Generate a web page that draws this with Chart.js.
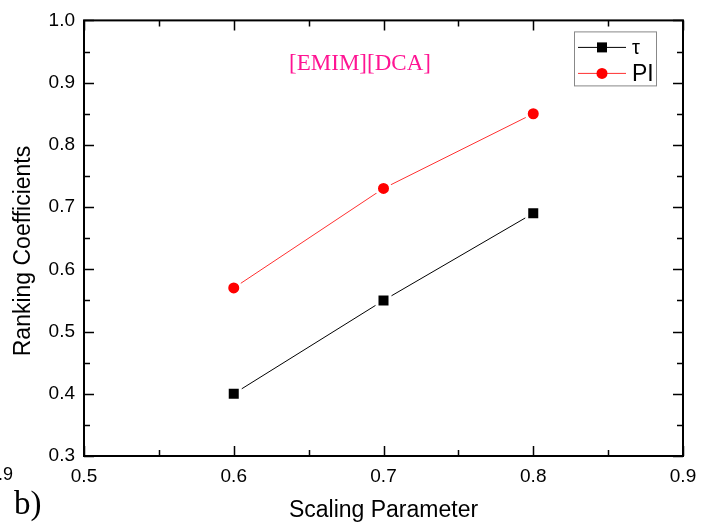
<!DOCTYPE html>
<html>
<head>
<meta charset="utf-8">
<script src="https://cdn.jsdelivr.net/npm/chart.js@4/dist/chart.umd.min.js"></script>
<style>
  html, body { margin: 0; padding: 0; background: #fff; overflow: hidden; }
</style>
</head>
<body>
<canvas id="myChart" width="715" height="529"></canvas>
<script>
// data
const scalingParams = [0.6, 0.7, 0.8];
const tauValues = [0.40, 0.55, 0.69];
const piValues = [0.57, 0.73, 0.85];
const seriesNames = ['τ', 'PI'];
const xTicksRange = [0.5, 0.9];
const yTicksRange = [0.3, 1.0];

function toPoints(xs, ys) {
    return xs.map((x, i) => ({x: x, y: ys[i]}));
}

const sans = '"Liberation Sans", Arial, sans-serif';
const serif = '"Liberation Serif", "Times New Roman", serif';

// inward ticks on all four sides, frame, legend and labels
const decorPlugin = {
    id: 'decor',
    afterDraw(chart) {
        const ctx = chart.ctx;
        const a = chart.chartArea;
        const xs = chart.scales.x;
        const ys = chart.scales.y;
        ctx.save();
        ctx.strokeStyle = '#000';
        ctx.lineWidth = 2;
        ctx.strokeRect(a.left, a.top, a.right - a.left, a.bottom - a.top);

        ctx.lineWidth = 1.5;
        ctx.beginPath();
        for (let v = xs.min; v <= xs.max + 1e-9; v += 0.05) {
            let px = Math.round(xs.getPixelForValue(v)) + 0.5;
            let major = Math.abs(v * 10 - Math.round(v * 10)) < 1e-6;
            let len = major ? 10 : 6;
            ctx.moveTo(px, a.bottom); ctx.lineTo(px, a.bottom - len);
            ctx.moveTo(px, a.top); ctx.lineTo(px, a.top + len);
        }
        for (let v = ys.min; v <= ys.max + 1e-9; v += 0.05) {
            let py = Math.round(ys.getPixelForValue(v)) + 0.5;
            let major = Math.abs(v * 10 - Math.round(v * 10)) < 1e-6;
            let len = major ? 10 : 6;
            ctx.moveTo(a.left, py); ctx.lineTo(a.left + len, py);
            ctx.moveTo(a.right, py); ctx.lineTo(a.right - len, py);
        }
        ctx.stroke();

        // legend box
        const lx = a.right - 109, ly = a.top + 11;
        ctx.strokeStyle = '#888';
        ctx.lineWidth = 1;
        ctx.strokeRect(lx + 0.5, ly + 0.5, 82, 54);
        chart.data.datasets.forEach((ds, i) => {
            let y = ly + 16 + i * 26;
            ctx.strokeStyle = ds.borderColor;
            ctx.lineWidth = 1;
            ctx.beginPath();
            ctx.moveTo(lx + 4, y); ctx.lineTo(lx + 52, y);
            ctx.stroke();
            ctx.fillStyle = ds.pointBackgroundColor;
            if (ds.pointStyle === 'rect') {
                ctx.fillRect(lx + 23, y - 5, 10, 10);
            } else {
                ctx.beginPath();
                ctx.arc(lx + 28, y, 5.5, 0, Math.PI * 2);
                ctx.fill();
            }
            ctx.fillStyle = '#000';
            ctx.font = (i === 0 ? '20px ' : '23px ') + sans;
            ctx.textBaseline = 'middle';
            ctx.textAlign = 'left';
            ctx.fillText(ds.label, lx + 58, y + 1);
        });

        // y axis title, drawn a bit below the middle as in the picture
        ctx.fillStyle = '#000';
        ctx.font = '23px ' + sans;
        ctx.textAlign = 'center';
        ctx.textBaseline = 'middle';
        ctx.translate(24, 251);
        ctx.rotate(-Math.PI / 2);
        ctx.fillText(ys.options.title.text, 0, 0);
        ctx.setTransform(1, 0, 0, 1, 0, 0);

        // annotation
        ctx.fillStyle = '#ff1493';
        ctx.font = '23px ' + serif;
        ctx.fillText('[EMIM][DCA]', 360, 64);

        // panel letter and stray label on the left
        ctx.fillStyle = '#000';
        ctx.font = '33px ' + serif;
        ctx.textAlign = 'left';
        ctx.textBaseline = 'alphabetic';
        ctx.fillText('b)', 14, 514);
        ctx.font = '18px ' + sans;
        ctx.textBaseline = 'middle';
        ctx.fillText('0.9', -12, 475);
        ctx.restore();
    }
};

const ctx = document.getElementById('myChart').getContext('2d');
const myChart = new Chart(ctx, {
    type: 'scatter',
    data: {
        datasets: [{
            label: seriesNames[0],
            data: toPoints(scalingParams, tauValues),
            showLine: true,
            borderColor: '#000',
            borderWidth: 1,
            pointStyle: 'rect',
            pointRadius: 9.2,
            pointBackgroundColor: '#000',
            pointBorderColor: '#fff',
            pointBorderWidth: 3
        }, {
            label: seriesNames[1],
            data: toPoints(scalingParams, piValues),
            showLine: true,
            borderColor: '#ff3030',
            borderWidth: 1,
            pointStyle: 'circle',
            pointRadius: 7,
            pointBackgroundColor: '#ff0000',
            pointBorderColor: '#fff',
            pointBorderWidth: 3
        }]
    },
    options: {
        responsive: false,
        animation: false,
        layout: {padding: {top: 16, right: 32, left: 0, bottom: 0}},
        plugins: {legend: {display: false}, tooltip: {enabled: false}},
        scales: {
            x: {
                type: 'linear',
                min: xTicksRange[0],
                max: xTicksRange[1],
                afterFit: function (scale) { scale.height = 73; },
                grid: {display: false, drawTicks: false},
                border: {display: false},
                ticks: {
                    stepSize: 0.1,
                    padding: 9,
                    color: '#000',
                    font: {family: sans, size: 19},
                    callback: v => v.toFixed(1)
                },
                title: {
                    display: true,
                    text: 'Scaling Parameter',
                    color: '#000',
                    font: {family: sans, size: 23},
                    padding: {top: 0, bottom: 5}
                }
            },
            y: {
                type: 'linear',
                min: yTicksRange[0],
                max: yTicksRange[1],
                afterFit: function (scale) { scale.width = 84; },
                grid: {display: false, drawTicks: false},
                border: {display: false},
                ticks: {
                    stepSize: 0.1,
                    padding: 9,
                    color: '#000',
                    font: {family: sans, size: 19},
                    callback: v => v.toFixed(1)
                },
                title: {
                    display: false,
                    text: 'Ranking Coefficients'
                }
            }
        }
    },
    plugins: [decorPlugin]
});
</script>
</body>
</html>
